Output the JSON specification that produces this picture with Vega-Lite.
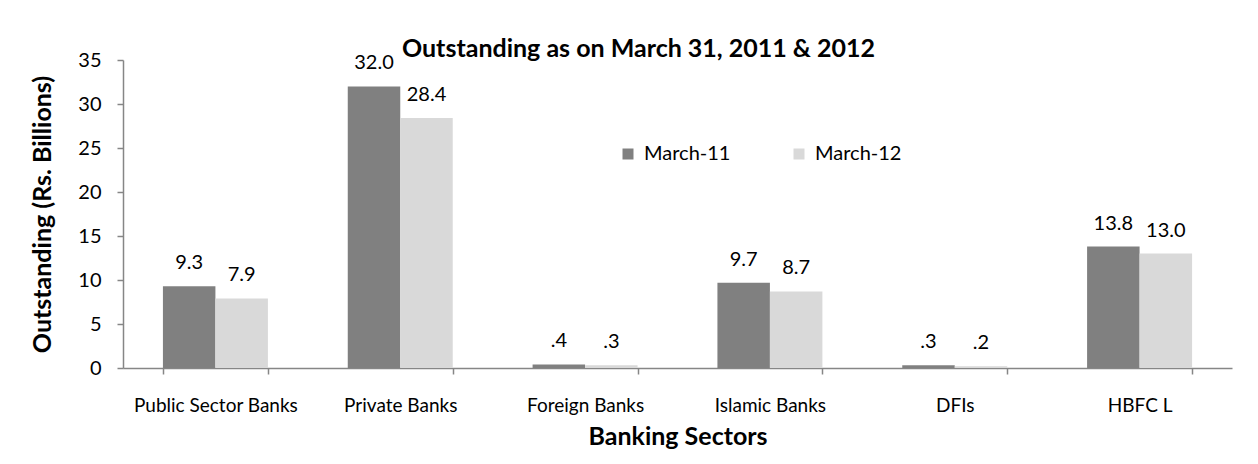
{
  "$schema": "https://vega.github.io/schema/vega-lite/v6.json",
  "width": 1109,
  "height": 308,
  "autosize": {"type": "none"},
  "padding": {"left": 123, "top": 60, "right": 26, "bottom": 96},
  "background": "white",
  "title": {"text": "Outstanding as on March 31, 2011 & 2012", "font": "Lato", "fontSize": 25, "fontWeight": "bold", "color": "#000000", "anchor": "middle", "dx": -39, "offset": -12},
  "data": {"values": [
    {"sector": "Public Sector Banks", "period": "March-11", "value": 9.3},
    {"sector": "Public Sector Banks", "period": "March-12", "value": 7.9},
    {"sector": "Private Banks", "period": "March-11", "value": 32.0},
    {"sector": "Private Banks", "period": "March-12", "value": 28.4},
    {"sector": "Foreign Banks", "period": "March-11", "value": 0.4},
    {"sector": "Foreign Banks", "period": "March-12", "value": 0.3},
    {"sector": "Islamic Banks", "period": "March-11", "value": 9.7},
    {"sector": "Islamic Banks", "period": "March-12", "value": 8.7},
    {"sector": "DFIs", "period": "March-11", "value": 0.3},
    {"sector": "DFIs", "period": "March-12", "value": 0.2},
    {"sector": "HBFC L", "period": "March-11", "value": 13.8},
    {"sector": "HBFC L", "period": "March-12", "value": 13.0}
  ]},
  "transform": [
    {"calculate": "datum.value < 1 ? slice(format(datum.value, '.1f'), 1) : format(datum.value, '.1f')", "as": "label"}
  ],
  "encoding": {
    "x": {
      "field": "sector", "type": "nominal",
      "sort": ["Public Sector Banks", "Private Banks", "Foreign Banks", "Islamic Banks", "DFIs", "HBFC L"],
      "scale": {"paddingInner": 0.432, "paddingOuter": 0.216},
      "axis": {
        "title": "Banking Sectors", "titleFont": "Lato", "titleFontSize": 25, "titleFontWeight": "bold", "titleColor": "#000000", "titlePadding": 9,
        "labelAngle": 0, "labelFont": "Lato", "labelFontSize": 19, "labelColor": "#000000", "labelPadding": 22,
        "tickBand": "extent", "tickSize": 6, "tickColor": "#868686", "tickWidth": 1.5,
        "domainColor": "#868686", "domainWidth": 1.5, "grid": false
      }
    },
    "xOffset": {"field": "period", "type": "nominal", "sort": ["March-11", "March-12"], "scale": {"paddingInner": 0, "paddingOuter": 0}},
    "y": {
      "field": "value", "type": "quantitative",
      "scale": {"domain": [0, 35], "nice": false},
      "axis": {
        "title": "Outstanding (Rs. Billions)", "titleFont": "Lato", "titleFontSize": 25, "titleFontWeight": "bold", "titleColor": "#000000", "titlePadding": 22,
        "values": [0, 5, 10, 15, 20, 25, 30, 35],
        "labelFont": "Lato", "labelFontSize": 20, "labelColor": "#000000", "labelPadding": 16,
        "tickSize": 6, "tickColor": "#868686", "tickWidth": 1.5,
        "domainColor": "#868686", "domainWidth": 1.5, "grid": false
      }
    }
  },
  "layer": [
    {
      "mark": {"type": "bar"},
      "encoding": {
        "color": {
          "field": "period", "type": "nominal",
          "scale": {"domain": ["March-11", "March-12"], "range": ["#808080", "#d9d9d9"]},
          "legend": {
            "orient": "none", "legendX": 495, "legendY": 84, "direction": "horizontal", "title": null,
            "symbolType": "square", "symbolSize": 121, "symbolStrokeWidth": 0,
            "labelFont": "Lato", "labelFontSize": 20, "labelColor": "#000000", "labelOffset": 6, "columnPadding": 58
          }
        }
      }
    },
    {
      "mark": {"type": "text", "baseline": "bottom", "dy": -13, "font": "Lato", "fontSize": 20, "color": "#000000"},
      "encoding": {"text": {"field": "label"}}
    }
  ],
  "config": {"view": {"stroke": null}}
}
